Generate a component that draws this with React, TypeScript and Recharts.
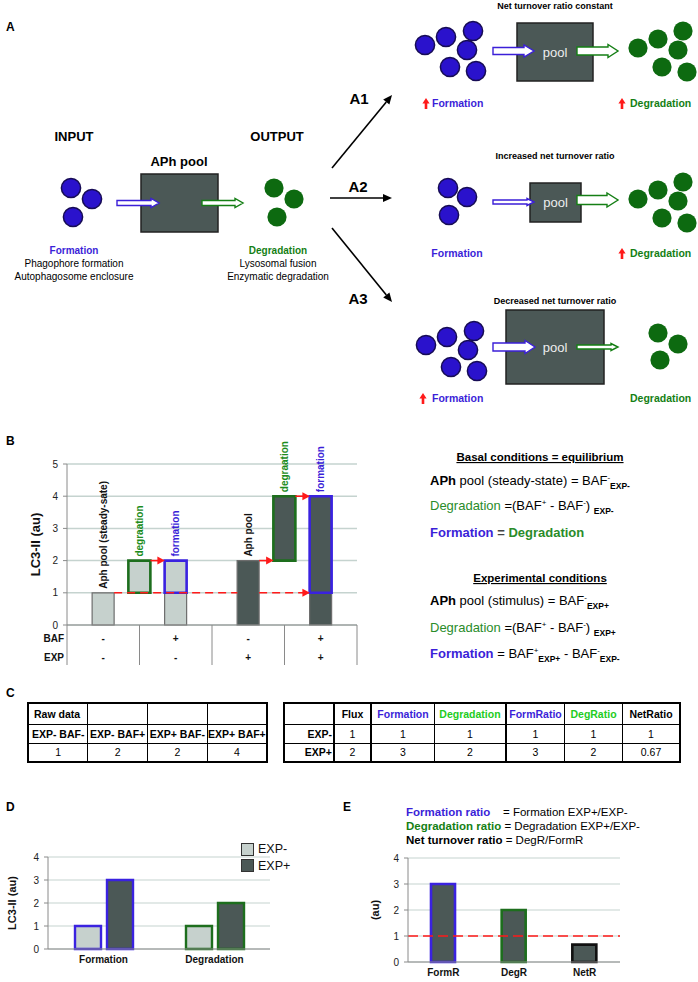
import React from "react";
import { BarChart, Bar, XAxis, YAxis, CartesianGrid, ReferenceLine, Cell, LabelList, Legend } from "recharts";

// ---- panel B: LC3-II staircase (x in half-slots, 0..8)
const bPositions = [1, 2, 3, 5, 6, 7];
const bBase = [1, 1, 1, 2, 2, 1];
const bTop = [0, 1, 1, 0, 2, 3];
const bKinds = ["pool", "deg", "form", "pool", "deg", "form"];
const bExp = [false, false, false, true, true, true];
const bLabels = ["Aph pool (steady-sate)", "degraation", "formation", "Aph pool", "degraation", "formation"];
const bTicks = [0, 1, 2, 3, 4, 5, 6, 7, 8];
const bBafRow = ["-", "+", "-", "+"];
const bExpRow = ["-", "-", "+", "+"];

// ---- panel C tables
const rawHeader = ["Raw data", "", "", ""];
const rawConditions = ["EXP- BAF-", "EXP- BAF+", "EXP+ BAF-", "EXP+ BAF+"];
const rawValues = ["1", "2", "2", "4"];
const fluxHeader = ["", "Flux", "Formation", "Degradation", "FormRatio", "DegRatio", "NetRatio"];
const fluxExpMinus = ["EXP-", "1", "1", "1", "1", "1", "1"];
const fluxExpPlus = ["EXP+", "2", "3", "2", "3", "2", "0.67"];

// ---- panel D
const dCategories = ["Formation", "Degradation"];
const dExpMinus = [1, 1];
const dExpPlus = [3, 2];

// ---- panel E
const eCategories = ["FormR", "DegR", "NetR"];
const eRatios = [3, 2, 0.67];

const FONT = "'Liberation Sans', Arial, Helvetica, sans-serif";
const NARROW = "'Liberation Sans Narrow', 'Arial Narrow', 'Liberation Sans', Arial, sans-serif";
const BLUE = "#3b1fd8";
const BLUE_BAR = "#3a22e0";
const GREEN = "#157f15";
const GREEN_BAR = "#1d6e1d";
const GREEN_TXT = "#2a8c2a";
const GREEN_TAB = "#22cc22";
const LIGHT = "#c6d1cd";
const DARK = "#4b5856";
const RED = "#ff1a1a";
const AXIS = "#8a8a8a";
const GRID = "#c5d3cf";

const kindColor: Record<string, string> = { pool: "#111", deg: "#1c8c1c", form: BLUE };
const kindStroke: Record<string, string> = { pool: "#6d6d6d", deg: GREEN_BAR, form: BLUE_BAR };

const bData = bPositions.map((p, i) => ({ pos: p, base: bBase[i], top: bTop[i] }));
const dData = dCategories.map((c, i) => ({ name: c, minus: dExpMinus[i], plus: dExpPlus[i] }));
const eData = eCategories.map((c, i) => ({ name: c, ratio: eRatios[i] }));
const dStroke = [BLUE_BAR, GREEN_BAR];
const eStroke = [BLUE_BAR, GREEN_BAR, "#111"];

// ---------- schematic helpers
function BlockArrow({ x1, x2, y, shaft, head, headLen, color }: any) {
  const s = shaft / 2, h = head / 2, hx = x2 - headLen;
  const pts = `${x1},${y - s} ${hx},${y - s} ${hx},${y - h} ${x2},${y} ${hx},${y + h} ${hx},${y + s} ${x1},${y + s}`;
  return <polygon points={pts} fill="#fff" stroke={color} strokeWidth={1.4} />;
}

function UpArrow({ x, y }: any) {
  const pts = `${x},${y - 11} ${x + 3.6},${y - 5.5} ${x + 1.3},${y - 5.5} ${x + 1.3},${y} ${x - 1.3},${y} ${x - 1.3},${y - 5.5} ${x - 3.6},${y - 5.5}`;
  return <polygon points={pts} fill={RED} />;
}

function LineArrow({ x1, y1, x2, y2 }: any) {
  const a = Math.atan2(y2 - y1, x2 - x1);
  const L = 9, W = 4;
  const bx = x2 - L * Math.cos(a), by = y2 - L * Math.sin(a);
  const px = -Math.sin(a) * W, py = Math.cos(a) * W;
  return (
    <g>
      <line x1={x1} y1={y1} x2={bx} y2={by} stroke="#000" strokeWidth={1.6} />
      <polygon points={`${x2},${y2} ${bx + px},${by + py} ${bx - px},${by - py}`} fill="#000" />
    </g>
  );
}

function Dots({ pts, fill, outline }: any) {
  return (
    <g>
      {pts.map((p: number[], i: number) => (
        <circle key={i} cx={p[0]} cy={p[1]} r={9.6} fill={fill} stroke={outline ? "#170c55" : "none"} strokeWidth={1.5} />
      ))}
    </g>
  );
}

const sixBlue = (dx: number, dy: number) =>
  [[425, 45], [446, 37], [473, 31], [467, 50], [450, 67], [476, 71]].map((p) => [p[0] + dx, p[1] + dy]);
const sixGreen = (dx: number, dy: number) =>
  [[638, 48], [658, 39], [683, 31], [678, 50], [662, 67], [687, 72]].map((p) => [p[0] + dx, p[1] + dy]);

function PoolBox({ x, y, w, h, label }: any) {
  return (
    <g>
      <rect x={x} y={y} width={w} height={h} fill={DARK} stroke="#222" strokeWidth={1.5} />
      {label && (
        <text x={x + w / 2} y={y + h / 2 + 4.5} textAnchor="middle" fontSize={13} fill="#eee">
          pool
        </text>
      )}
    </g>
  );
}

function Overlay() {
  return (
    <svg width={698} height={982} style={{ position: "absolute", left: 0, top: 0 }} fontFamily={FONT}>
      {/* letters */}
      <text x={6} y={31} fontSize={12} fontWeight="bold">A</text>
      <text x={6} y={445} fontSize={12} fontWeight="bold">B</text>
      <text x={6} y={697} fontSize={12} fontWeight="bold">C</text>
      <text x={6} y={811} fontSize={12} fontWeight="bold">D</text>
      <text x={343} y={811} fontSize={12} fontWeight="bold">E</text>

      {/* A: main scheme */}
      <text x={74} y={141} textAnchor="middle" fontSize={13} fontWeight="bold">INPUT</text>
      <text x={277} y={141} textAnchor="middle" fontSize={13} fontWeight="bold">OUTPUT</text>
      <text x={179} y={166} textAnchor="middle" fontSize={13} fontWeight="bold">APh pool</text>
      <PoolBox x={141} y={174} w={77} h={58} />
      <Dots pts={[[71, 188], [92, 199], [73, 217]]} fill="#2a12cc" outline />
      <Dots pts={[[274, 188], [294, 199], [277, 217]]} fill="#0d6a10" />
      <BlockArrow x1={117} x2={159} y={203} shaft={5} head={9} headLen={8} color={BLUE} />
      <BlockArrow x1={202} x2={243} y={203} shaft={5} head={9} headLen={8} color={GREEN} />
      <text x={74} y={253.5} textAnchor="middle" fontSize={10} fontWeight="bold" fill={BLUE}>Formation</text>
      <text x={74} y={266.5} textAnchor="middle" fontSize={10}>Phagophore formation</text>
      <text x={74} y={279.5} textAnchor="middle" fontSize={10}>Autophagosome enclosure</text>
      <text x={278} y={253.5} textAnchor="middle" fontSize={10} fontWeight="bold" fill={GREEN}>Degradation</text>
      <text x={278} y={266.5} textAnchor="middle" fontSize={10}>Lysosomal fusion</text>
      <text x={278} y={279.5} textAnchor="middle" fontSize={10}>Enzymatic degradation</text>

      <LineArrow x1={332} y1={168} x2={392} y2={95} />
      <LineArrow x1={330} y1={198} x2={392} y2={198} />
      <LineArrow x1={332} y1={228} x2={392} y2={302} />
      <text x={359} y={104} textAnchor="middle" fontSize={15} fontWeight="bold">A1</text>
      <text x={358} y={192} textAnchor="middle" fontSize={15} fontWeight="bold">A2</text>
      <text x={358} y={304} textAnchor="middle" fontSize={15} fontWeight="bold">A3</text>

      {/* A1 */}
      <text x={555} y={9} textAnchor="middle" fontSize={9} fontWeight="bold">Net turnover ratio constant</text>
      <Dots pts={sixBlue(0, 0)} fill="#2a12cc" outline />
      <PoolBox x={517} y={23} w={76} h={58} label />
      <BlockArrow x1={493} x2={534} y={51} shaft={7} head={12} headLen={10} color={BLUE} />
      <BlockArrow x1={577} x2={618} y={51} shaft={8} head={13} headLen={10} color={GREEN} />
      <Dots pts={sixGreen(0, 0)} fill="#0d6a10" />
      <UpArrow x={426} y={109} />
      <text x={432} y={107} fontSize={10.5} fontWeight="bold" fill={BLUE}>Formation</text>
      <UpArrow x={622} y={109} />
      <text x={630} y={107} fontSize={10.5} fontWeight="bold" fill={GREEN}>Degradation</text>

      {/* A2 */}
      <text x={555} y={159} textAnchor="middle" fontSize={9} fontWeight="bold">Increased net turnover ratio</text>
      <Dots pts={[[448, 188], [467, 197], [449, 215]]} fill="#2a12cc" outline />
      <PoolBox x={530} y={183} w={51} h={39} label />
      <BlockArrow x1={493} x2={534} y={202} shaft={4} head={7} headLen={7} color={BLUE} />
      <BlockArrow x1={577} x2={618} y={200} shaft={9} head={14} headLen={11} color={GREEN} />
      <Dots pts={sixGreen(0, 151)} fill="#0d6a10" />
      <text x={457} y={257} textAnchor="middle" fontSize={10.5} fontWeight="bold" fill={BLUE}>Formation</text>
      <UpArrow x={622} y={259} />
      <text x={630} y={257} fontSize={10.5} fontWeight="bold" fill={GREEN}>Degradation</text>

      {/* A3 */}
      <text x={555} y={304} textAnchor="middle" fontSize={9} fontWeight="bold">Decreased net turnover ratio</text>
      <Dots pts={sixBlue(1, 300)} fill="#2a12cc" outline />
      <PoolBox x={506} y={310} w={98} h={74} label />
      <BlockArrow x1={493} x2={535} y={347} shaft={8} head={13} headLen={10} color={BLUE} />
      <BlockArrow x1={577} x2={618} y={347} shaft={4} head={7} headLen={7} color={GREEN} />
      <Dots pts={[[658, 333], [678, 344], [660, 360]]} fill="#0d6a10" />
      <UpArrow x={423} y={404} />
      <text x={432} y={402} fontSize={10.5} fontWeight="bold" fill={BLUE}>Formation</text>
      <text x={630} y={402} fontSize={10.5} fontWeight="bold" fill={GREEN}>Degradation</text>

      {/* B: formulas */}
      <text x={540} y={461} textAnchor="middle" fontSize={11.5} fontWeight="bold" textDecoration="underline">Basal conditions = equilibrium</text>
      <text x={430} y={484.5} fontSize={13}>
        <tspan fontWeight="bold">APh</tspan> pool (steady-state) = BAF<tspan dy={-5} fontSize={8}>-</tspan>
        <tspan dy={9} fontSize={8.5} fontWeight="bold">EXP-</tspan>
      </text>
      <text x={430} y={509.5} fontSize={13}>
        <tspan fill={GREEN_TXT}>Degradation</tspan> =(BAF<tspan dy={-5} fontSize={8}>+</tspan>
        <tspan dy={5}> - BAF</tspan><tspan dy={-5} fontSize={8}>-</tspan><tspan dy={5}>) </tspan>
        <tspan dy={4} fontSize={8.5} fontWeight="bold">EXP-</tspan>
      </text>
      <text x={430} y={536.5} fontSize={13} fontWeight="bold">
        <tspan fill={BLUE}>Formation</tspan><tspan fill="#444"> = </tspan><tspan fill={GREEN_TXT}>Degradation</tspan>
      </text>
      <text x={540} y={582} textAnchor="middle" fontSize={11.5} fontWeight="bold" textDecoration="underline">Experimental conditions</text>
      <text x={430} y={604.5} fontSize={13}>
        <tspan fontWeight="bold">APh</tspan> pool (stimulus) = BAF<tspan dy={-5} fontSize={8}>-</tspan>
        <tspan dy={9} fontSize={8.5} fontWeight="bold">EXP+</tspan>
      </text>
      <text x={430} y={631.5} fontSize={13}>
        <tspan fill={GREEN_TXT}>Degradation</tspan> =(BAF<tspan dy={-5} fontSize={8}>+</tspan>
        <tspan dy={5}> - BAF</tspan><tspan dy={-5} fontSize={8}>-</tspan><tspan dy={5}>) </tspan>
        <tspan dy={4} fontSize={8.5} fontWeight="bold">EXP+</tspan>
      </text>
      <text x={430} y={658} fontSize={13}>
        <tspan fill={BLUE} fontWeight="bold">Formation</tspan> = BAF<tspan dy={-5} fontSize={8}>+</tspan>
        <tspan dy={9} fontSize={8.5} fontWeight="bold">EXP+</tspan><tspan dy={-4}> - BAF</tspan>
        <tspan dy={-5} fontSize={8}>-</tspan><tspan dy={9} fontSize={8.5} fontWeight="bold">EXP-</tspan>
      </text>

      {/* E: formulas */}
      <text x={406} y={816} fontSize={11.5}>
        <tspan fill={BLUE} fontWeight="bold">Formation ratio</tspan>
      </text>
      <text x={503} y={816} fontSize={11.5}>= Formation EXP+/EXP-</text>
      <text x={406} y={830} fontSize={11.5}>
        <tspan fill={GREEN} fontWeight="bold">Degradation ratio</tspan> = Degradation EXP+/EXP-
      </text>
      <text x={406} y={844} fontSize={11.5}>
        <tspan fontWeight="bold">Net turnover ratio</tspan> = DegR/FormR
      </text>
    </svg>
  );
}

// ---------- panel B pieces
function BTick(props: any) {
  const { x, y, payload } = props;
  const v = payload.value;
  const common = { fontSize: 10, fontWeight: "bold" as const, fill: "#111", fontFamily: FONT };
  if (v % 2 === 0) {
    return (
      <g>
        <line x1={x} x2={x} y1={y} y2={y + 40} stroke={AXIS} strokeWidth={1} />
        {v === 0 && (
          <>
            <text x={x - 3} y={y + 16.5} textAnchor="end" {...common}>BAF</text>
            <text x={x - 3} y={y + 36} textAnchor="end" {...common}>EXP</text>
          </>
        )}
      </g>
    );
  }
  const i = (v - 1) / 2;
  return (
    <g>
      <text x={x} y={y + 16.5} textAnchor="middle" {...common}>{bBafRow[i]}</text>
      <text x={x} y={y + 36} textAnchor="middle" {...common}>{bExpRow[i]}</text>
    </g>
  );
}

// label identified by the bar's x position (value of dataKey "pos")
const bLabel = (onPool: boolean) => (props: any) => {
  const i = bPositions.indexOf(Number(props.value));
  if (i < 0 || (bKinds[i] === "pool") !== onPool) return null;
  const vb = props.viewBox || props;
  const cx = vb.x + vb.width / 2;
  const ty = Math.min(vb.y, vb.y + vb.height) - 4;
  return (
    <text x={cx} y={ty} transform={`rotate(-90 ${cx} ${ty})`} textAnchor="start" dominantBaseline="central"
      fontSize={10} fontWeight="bold" fill={kindColor[bKinds[i]]} fontFamily={FONT}>
      {bLabels[i]}
    </text>
  );
};

const redArrow = (dashed: boolean, head: boolean) => (p: any) => {
  const { x1, y1, x2, y2 } = p;
  const L = 7.5, W = 4;
  return (
    <g>
      <line x1={x1} y1={y1} x2={head ? x2 - L + 1 : x2} y2={y2} stroke={RED} strokeWidth={1.6} strokeDasharray={dashed ? "8 5" : undefined} />
      {head && <polygon points={`${x2},${y2} ${x2 - L},${y2 - W} ${x2 - L},${y2 + W}`} fill={RED} />}
    </g>
  );
};

const yLabel = (text: string, dx: number, size: number) => (props: any) => {
  const vb = props.viewBox;
  const cx = vb.x + dx;
  const cy = vb.y + vb.height / 2;
  return (
    <text x={cx} y={cy} transform={`rotate(-90 ${cx} ${cy})`} textAnchor="middle" dominantBaseline="central"
      fontSize={size} fontWeight="bold" fill="#111" fontFamily={FONT}>
      {text}
    </text>
  );
};

function ChartB() {
  return (
    <BarChart width={370} height={240} data={bData} margin={{ top: 24, right: 13, bottom: 15, left: 0 }}>
      <CartesianGrid vertical={false} stroke={GRID} strokeWidth={1.5} />
      <XAxis type="number" dataKey="pos" domain={[0, 8]} ticks={bTicks} interval={0} height={40}
        tickLine={false} tickSize={0} tickMargin={0} stroke={AXIS} tick={(p: any) => <BTick {...p} />} />
      <YAxis type="number" domain={[0, 5]} ticks={[0, 1, 2, 3, 4, 5]} width={67} stroke={AXIS} tickSize={4}
        tickMargin={5} tick={{ fontSize: 10, fill: "#222", fontFamily: FONT }} label={yLabel("LC3-II (au)", 35, 13)} />
      {/* dashed baseline from the steady-state pool, split so it stays behind the EXP+ pool bar */}
      <ReferenceLine segment={[{ x: 1.3, y: 1 }, { x: 4.7, y: 1 }]} shape={redArrow(true, false)} />
      <ReferenceLine segment={[{ x: 5.3, y: 1 }, { x: 6.7, y: 1 }]} shape={redArrow(true, true)} />
      <Bar dataKey="base" stackId="b" barSize={22} isAnimationActive={false}>
        {bData.map((d, i) => (
          <Cell key={i}
            fill={bKinds[i] === "deg" ? "transparent" : bExp[i] ? DARK : LIGHT}
            stroke={bKinds[i] === "deg" ? "none" : "#6d6d6d"} strokeWidth={1.2} />
        ))}
        <LabelList dataKey="pos" content={bLabel(true)} />
      </Bar>
      <Bar dataKey="top" stackId="b" barSize={22} isAnimationActive={false}>
        {bData.map((d, i) => (
          <Cell key={i} fill={bExp[i] ? DARK : LIGHT} stroke={kindStroke[bKinds[i]]} strokeWidth={2.6} />
        ))}
        <LabelList dataKey="pos" content={bLabel(false)} />
      </Bar>
      <ReferenceLine segment={[{ x: 2.3, y: 2 }, { x: 2.7, y: 2 }]} shape={redArrow(false, true)} />
      <ReferenceLine segment={[{ x: 5.3, y: 2 }, { x: 5.7, y: 2 }]} shape={redArrow(false, true)} />
      <ReferenceLine segment={[{ x: 6.3, y: 4 }, { x: 6.7, y: 4 }]} shape={redArrow(false, true)} />
    </BarChart>
  );
}

// ---------- panel C tables
const cellBase: React.CSSProperties = {
  border: "1px solid #000", padding: 0, textAlign: "center", fontSize: 10.5, fontFamily: NARROW, color: "#000",
};

function RawTable() {
  return (
    <table style={{ position: "absolute", left: 27, top: 702, width: 241, height: 59, borderCollapse: "collapse", border: "2.5px solid #000", tableLayout: "fixed" }}>
      <tbody>
        <tr style={{ height: 21 }}>
          {rawHeader.map((h, i) => (
            <td key={i} style={{ ...cellBase, fontWeight: "bold", textAlign: i === 0 ? "left" : "center", paddingLeft: i === 0 ? 5 : 0 }}>{h}</td>
          ))}
        </tr>
        <tr style={{ height: 19 }}>
          {rawConditions.map((h, i) => (
            <td key={i} style={{ ...cellBase, fontWeight: "bold", whiteSpace: "nowrap" }}>{h}</td>
          ))}
        </tr>
        <tr style={{ height: 19 }}>
          {rawValues.map((h, i) => (
            <td key={i} style={cellBase}>{h}</td>
          ))}
        </tr>
      </tbody>
    </table>
  );
}

const fluxWidths = [47, 35, 62, 70, 57, 57, 56];
const fluxThick = [false, true, true, false, true, false, false];
const fluxHeadColor = ["#000", "#000", BLUE, GREEN_TAB, BLUE, GREEN_TAB, "#000"];

function FluxTable() {
  const row = (vals: string[], bold: boolean) =>
    vals.map((v, i) => (
      <td key={i} style={{
        ...cellBase, width: fluxWidths[i],
        borderLeft: fluxThick[i] ? "2.5px solid #000" : "1px solid #000",
        fontWeight: bold || i === 0 ? "bold" : "normal",
        color: bold ? fluxHeadColor[i] : "#000",
        textAlign: i === 0 ? "right" : "center", paddingRight: i === 0 ? 1 : 0,
      }}>{v}</td>
    ));
  return (
    <table style={{ position: "absolute", left: 283, top: 702, width: 384, height: 59, borderCollapse: "collapse", border: "2.5px solid #000", tableLayout: "fixed" }}>
      <tbody>
        <tr style={{ height: 21 }}>{row(fluxHeader, true)}</tr>
        <tr style={{ height: 19 }}>{row(fluxExpMinus, false)}</tr>
        <tr style={{ height: 19 }}>{row(fluxExpPlus, false)}</tr>
      </tbody>
    </table>
  );
}

// ---------- panel D
function DLegend(props: any) {
  const items = [...(props.payload || [])].sort((a: any, b: any) =>
    String(a.dataKey).localeCompare(String(b.dataKey)));
  return (
    <div style={{ fontFamily: FONT }}>
      {items.map((it: any, i: number) => (
        <div key={i} style={{ display: "flex", alignItems: "center", height: 16.5 }}>
          <span style={{ display: "inline-block", width: 11, height: 11, background: it.color, border: "1.2px solid #333", marginRight: 4 }} />
          <span style={{ fontSize: 12.5, color: "#111" }}>{it.value}</span>
        </div>
      ))}
    </div>
  );
}

function ChartD() {
  return (
    <BarChart width={290} height={150} data={dData} margin={{ top: 27, right: 20, bottom: 11, left: 0 }} barGap={6}>
      <CartesianGrid vertical={false} stroke={GRID} strokeWidth={1.2} />
      <XAxis dataKey="name" height={20} tickLine={false} tickSize={0} tickMargin={7} stroke={AXIS}
        tick={{ fontSize: 10, fontWeight: "bold", fill: "#111", fontFamily: FONT }} />
      <YAxis type="number" domain={[0, 4]} ticks={[0, 1, 2, 3, 4]} width={48} stroke={AXIS} tickSize={4} tickMargin={5}
        tick={{ fontSize: 10, fill: "#222", fontFamily: FONT }} label={yLabel("LC3-II (au)", 12, 11)} />
      <Legend layout="vertical" align="center" verticalAlign="middle" content={DLegend}
        wrapperStyle={{ left: 241, top: 11, width: 60, height: 34 }} />
      <Bar dataKey="minus" name="EXP-" fill={LIGHT} barSize={26} isAnimationActive={false}>
        {dData.map((d, i) => <Cell key={i} fill={LIGHT} stroke={dStroke[i]} strokeWidth={2.4} />)}
      </Bar>
      <Bar dataKey="plus" name="EXP+" fill={DARK} barSize={26} isAnimationActive={false}>
        {dData.map((d, i) => <Cell key={i} fill={DARK} stroke={dStroke[i]} strokeWidth={2.4} />)}
      </Bar>
    </BarChart>
  );
}

// ---------- panel E
function ChartE() {
  return (
    <BarChart width={280} height={152} data={eData} margin={{ top: 28, right: 20, bottom: 2, left: 0 }}>
      <CartesianGrid vertical={false} stroke={GRID} strokeWidth={1.2} />
      <XAxis dataKey="name" height={18} tickLine={false} tickSize={0} tickMargin={7} stroke={AXIS}
        tick={{ fontSize: 10, fontWeight: "bold", fill: "#111", fontFamily: FONT }} />
      <YAxis type="number" domain={[0, 4]} ticks={[0, 1, 2, 3, 4]} width={48} stroke={AXIS} tickSize={4} tickMargin={5}
        tick={{ fontSize: 10, fill: "#222", fontFamily: FONT }} label={yLabel("(au)", 15, 11)} />
      <Bar dataKey="ratio" barSize={24} isAnimationActive={false}>
        {eData.map((d, i) => <Cell key={i} fill={DARK} stroke={eStroke[i]} strokeWidth={2.6} />)}
      </Bar>
      <ReferenceLine y={1} stroke={RED} strokeWidth={1.6} strokeDasharray="10 5" />
    </BarChart>
  );
}

export default function App() {
  return (
    <div style={{ position: "absolute", left: 0, top: 0, width: 698, height: 982, background: "#fff", fontFamily: FONT, overflow: "hidden" }}>
      <Overlay />
      <div style={{ position: "absolute", left: 0, top: 440 }}><ChartB /></div>
      <RawTable />
      <FluxTable />
      <div style={{ position: "absolute", left: 0, top: 830 }}><ChartD /></div>
      <div style={{ position: "absolute", left: 360, top: 830 }}><ChartE /></div>
    </div>
  );
}
